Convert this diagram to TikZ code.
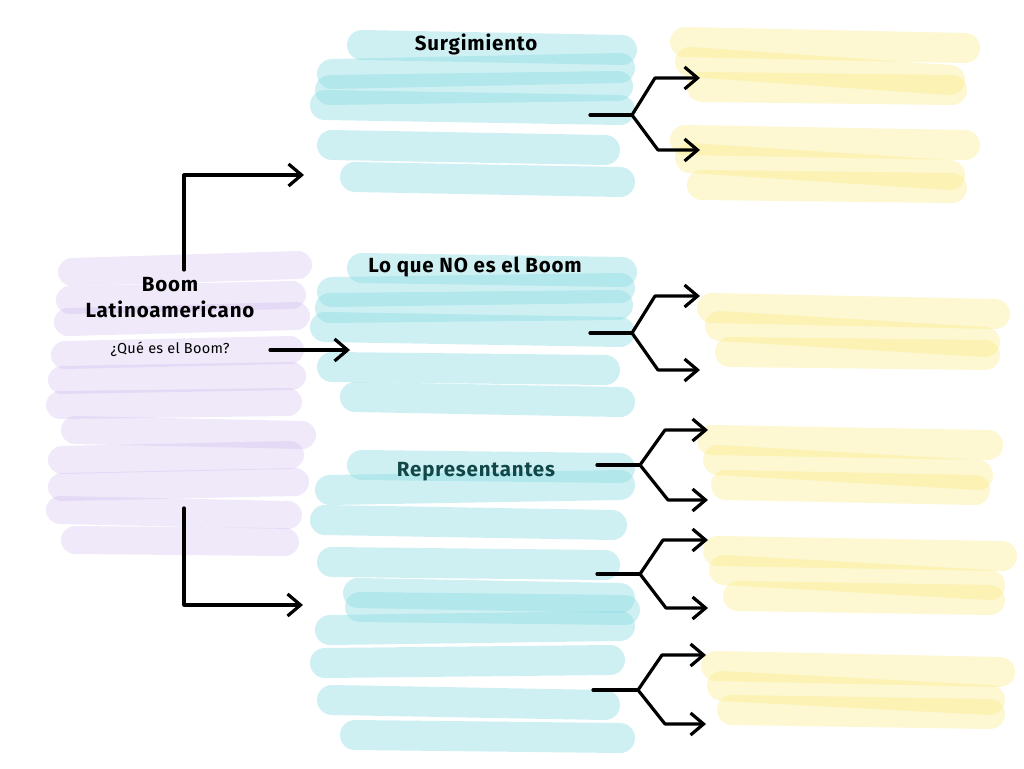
\documentclass[tikz,border=0pt]{standalone}
\usepackage{fontspec}
\setmainfont{Fira Sans}
\newfontfamily\spaced[LetterSpace=4]{Fira Sans}
\newfontfamily\spacedlight[LetterSpace=2]{Fira Sans}
\usetikzlibrary{arrows.meta}
\definecolor{tealbase}{RGB}{140,220,228}
\definecolor{purplebase}{RGB}{205,185,238}
\definecolor{yellowbase}{RGB}{250,232,120}
\definecolor{darkteal}{RGB}{16,72,74}
\tikzset{
  brush/.style={line width=30pt, line cap=round, opacity=0.45},
  tealbrush/.style={brush, draw=tealbase, opacity=0.42},
  purplebrush/.style={brush, draw=purplebase, line width=28pt, opacity=0.3},
  yellowbrush/.style={brush, draw=yellowbase, opacity=0.33},
  conn/.style={draw=black, line width=3.2pt, line cap=round, line join=round},
  arr/.style={conn, -{Straight Barb[length=13pt,width=22pt,line width=3.2pt]}},
  title/.style={font=\spaced\fontsize{20.5}{26}\selectfont\bfseries, align=center},
  subtitle/.style={font=\spacedlight\fontsize{14.5}{17}\selectfont},
}
\begin{document}
\begin{tikzpicture}[x=1pt,y=-1pt]
\useasboundingbox[fill=white] (0,0) rectangle (1024,768);
% purple strokes
\foreach \a/\b/\c/\d in {72/272/298/265, 70/300/292/295, 68/322/296/316, 65/355/290/350, 62/380/292/376, 60/405/288/402, 75/430/302/435, 62/460/290/455, 62/487/295/482, 60/510/288/515, 75/540/285/542}
  \draw[purplebrush] (\a,\b) -- (\c,\d);
% teal strokes top
\foreach \a/\b/\c/\d in {362/45/622/50, 332/74/620/68, 330/90/618/86, 325/105/620/110, 332/145/605/150, 355/177/620/182}
  \draw[tealbrush] (\a,\b) -- (\c,\d);
% teal strokes middle
\foreach \a/\b/\c/\d in {362/268/622/272, 332/292/620/288, 330/308/618/305, 325/327/620/332, 332/367/605/370, 355/397/620/402}
  \draw[tealbrush] (\a,\b) -- (\c,\d);
% teal strokes bottom
\foreach \a/\b/\c/\d in {362/465/620/468, 330/490/620/485, 325/520/612/525, 332/562/605/565, 358/593/620/598, 360/607/625/610, 330/630/620/626, 325/663/610/660, 332/700/605/705, 355/735/620/738}
  \draw[tealbrush] (\a,\b) -- (\c,\d);
% yellow strokes
\foreach \a/\b/\c/\d in {685/42/965/48, 690/62/950/80, 702/87/952/90,
                         685/140/965/145, 690/158/950/175, 702/185/952/188,
                         712/308/995/314, 720/326/985/342, 730/352/985/355,
                         712/440/988/445, 718/460/978/475, 726/485/975/490,
                         718/551/1002/556, 724/570/990/585, 738/596/990/600,
                         716/666/1000/672, 722/686/990/700, 732/710/990/714}
  \draw[yellowbrush] (\a,\b) -- (\c,\d);

% texts
\node[title] (boom) at (170,298) {Boom\\Latinoamericano};
\node[subtitle] (que) at (170,349) {¿Qué es el Boom?};
\node[title] (surg) at (476,44) {Surgimiento};
\node[title] (loque) at (475,267) {Lo que NO es el Boom};
\node[title, text=darkteal] (repr) at (476,472) {Representantes};

% main connectors
\coordinate (m1s) at (184,270);
\coordinate (m1c) at (184,175);
\coordinate (m1e) at (304,175);
\coordinate (m2s) at (270,350);
\coordinate (m2e) at (350,350);
\coordinate (m3s) at (184,508);
\coordinate (m3c) at (184,605);
\coordinate (m3e) at (303,605);
\draw[arr] (m1s) -- (m1c) -- (m1e);
\draw[arr] (m2s) -- (m2e);
\draw[arr] (m3s) -- (m3c) -- (m3e);

% forks
\foreach \n/\sx/\y/\jx/\ux/\uy/\ex/\dy in {a/590/115/632/655/78/700/150, b/590/333/632/655/296/700/370, c/597/465/640/665/430/708/500, d/597/574/640/663/540/708/608, e/593/690/638/662/655/706/724}{
  \coordinate (\n s) at (\sx,\y);
  \coordinate (\n j) at (\jx,\y);
  \coordinate (\n u) at (\ux,\uy);
  \coordinate (\n ue) at (\ex,\uy);
  \coordinate (\n d) at (\ux+3,\dy);
  \coordinate (\n de) at (\ex,\dy);
  \draw[conn] (\n s) -- (\n j);
  \draw[arr] (\n j) -- (\n u) -- (\n ue);
  \draw[arr] (\n j) -- (\n d) -- (\n de);
}
\end{tikzpicture}
\end{document}
